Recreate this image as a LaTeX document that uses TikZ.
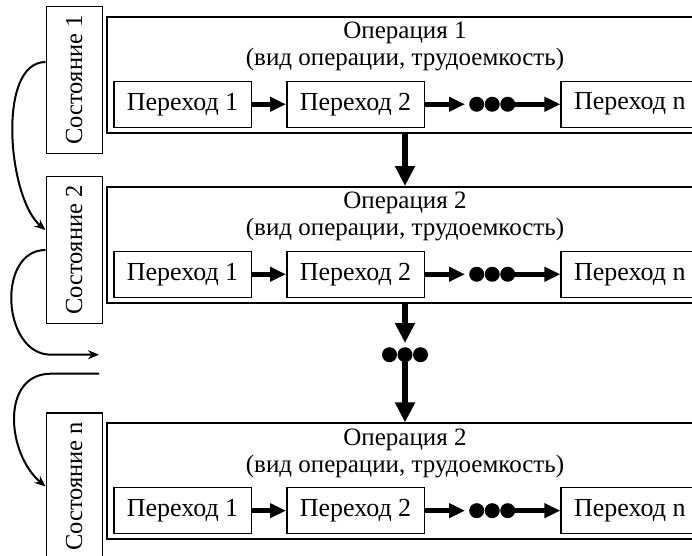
\documentclass[tikz,border=0pt]{standalone}
\usepackage{fontspec}
\setmainfont{Liberation Serif}
\usepackage{graphicx}
\usetikzlibrary{arrows.meta,positioning}

\begin{document}
\begin{tikzpicture}[
    x=1pt, y=1pt,
    node distance=34pt,
    every node/.style={font=\fontsize{25}{27}\selectfont},
    opbox/.style={draw, line width=2pt, minimum width=596pt, minimum height=116pt, inner sep=0pt},
    statebox/.style={draw, line width=1.5pt, minimum width=56pt, minimum height=147pt, inner sep=0pt, font=\fontsize{24.5}{26}\selectfont},
    trans/.style={draw, line width=1.5pt, minimum width=137.5pt, minimum height=46pt, inner sep=0pt, font=\fontsize{26}{28}\selectfont},
    optitle/.style={align=center, inner sep=0pt},
    dotsrow/.style={minimum width=46pt, minimum height=15pt, inner sep=0pt,
        path picture={\foreach \k in {-1,0,1} \fill ([xshift=\k*15.5pt]path picture bounding box.center) circle (7.5pt);}},
    harrow/.style={-{Triangle[length=16pt,width=14pt]}, line width=5pt},
    varrow/.style={-{Triangle[length=20pt,width=19pt]}, line width=6pt},
    statearrow/.style={-{Stealth[length=11pt,width=9pt]}, line width=2pt}
]
\useasboundingbox (0,0) rectangle (692,-555);
\clip (0,0) rectangle (692,-555);

% Operation 1
\node[opbox] (op1) at (405,-75) {};
\node[optitle, below=6pt of op1.north] (t1) {Операция 1\\(вид операции, трудоемкость)};
\node[statebox, left=3pt of op1.west, yshift=-5pt] (s1) {\rotatebox{90}{Состояние 1}};
\node[trans, above right=6pt and 7pt of op1.south west] (p11) {Переход 1};
\node[trans, right=of p11] (p12) {Переход 2};
\node[dotsrow, right=44pt of p12] (d1) {};
\node[trans, right=45pt of d1] (p1n) {Переход n};

% Operation 2
\node[opbox, below=52pt of op1] (op2) {};
\node[optitle, below=6pt of op2.north] (t2) {Операция 2\\(вид операции, трудоемкость)};
\node[statebox, left=3pt of op2.west, yshift=-5pt] (s2) {\rotatebox{90}{Состояние 2}};
\node[trans, above right=6pt and 7pt of op2.south west] (p21) {Переход 1};
\node[trans, right=of p21] (p22) {Переход 2};
\node[dotsrow, right=44pt of p22] (d2) {};
\node[trans, right=45pt of d2] (p2n) {Переход n};

% Skipped operations
\node[dotsrow, below=43pt of op2] (vdots) {};

% Operation n
\node[opbox, below=60pt of vdots] (op3) {};
\node[optitle, below=6pt of op3.north] (t3) {Операция 2\\(вид операции, трудоемкость)};
\node[statebox, left=3pt of op3.west, yshift=-5pt] (s3) {\rotatebox{90}{Состояние n}};
\node[trans, above right=6pt and 7pt of op3.south west] (p31) {Переход 1};
\node[trans, right=of p31] (p32) {Переход 2};
\node[dotsrow, right=44pt of p32] (d3) {};
\node[trans, right=45pt of d3] (p3n) {Переход n};

% Free ends of the state links
\coordinate[xshift=-4pt] (gapA) at (s2.east |- vdots);
\coordinate[yshift=-19pt] (gapB) at (gapA);

% Arrows
\foreach \r in {1,2,3} {
    \draw[harrow] (p\r1) -- (p\r2);
    \draw[harrow, shorten >=4pt] (p\r2) -- (d\r);
    \draw[harrow] (d\r) -- (p\r n);
}

\draw[varrow] (op1) -- (op2);
\draw[varrow, shorten >=4pt] (op2) -- (vdots);
\draw[varrow] (vdots) -- (op3);

\draw[statearrow] ([yshift=18pt]s1.west) to[out=180, in=140, looseness=0.75] ([yshift=20pt]s2.west);
\draw[statearrow] (s2.west) to[out=180, in=180, looseness=1.2] ([xshift=-48pt]gapA) -- (gapA);
\draw[statearrow] (gapB) -- ++(-48pt,0) to[out=180, in=140, looseness=1.15] (s3.west);
\end{tikzpicture}
\end{document}
